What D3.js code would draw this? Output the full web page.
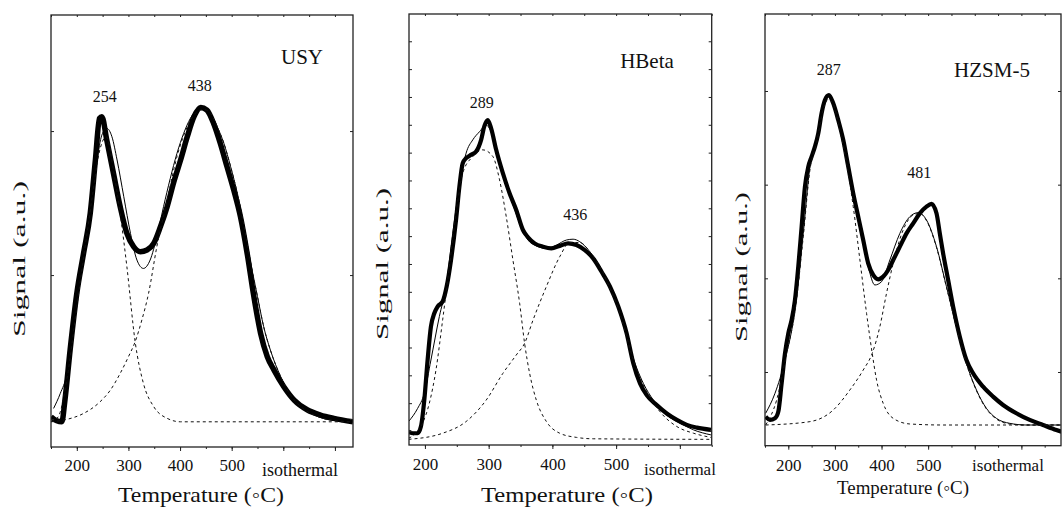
<!DOCTYPE html>
<html>
<head>
<meta charset="utf-8">
<script src="https://cdn.jsdelivr.net/npm/d3@7"></script>
<style>
  body { margin: 0; background: #fff; }
  text { font-family: "Liberation Serif", "Times New Roman", serif; fill: #111; }
</style>
</head>
<body>
<script>
// values are [temperature, signal (a.u.)]; beyond 500 the x axis is the isothermal hold
const xTickLabels = [200, 300, 400, 500];
const isoLabel = "isothermal";
const xTitle = "Temperature (\u25E6C)";
const yTitle = "Signal (a.u.)";

// USY
const usyExp = [[150,1.6],[161,-1.2],[171,-1.9],[177,13.2],[187,47.9],[200,87.3],[213,115],[226,142.8],[236,179.9],[244,208.8],[248.5,210],[258,193.8],[271,170.6],[284,147.5],[297,128.9],[310,119.7],[323,116.2],[336,117.4],[349,122],[362,133.6],[375,147.5],[388,164.8],[401,179.9],[414,196.1],[427,210],[440,216.4],[452,214.6],[465,205.3],[478,191.4],[491,175.2],[504,159],[517,140.5],[530,115],[543,85],[556,59.5],[569,43.3],[582,34],[601,22.5],[621,13.2],[647,6.3],[672,2.8],[698,0.5],[735,-1.9]];
const usyFit = [[155,7.4],[168,17.8],[181,31.7],[190,52.5],[200,82.6],[213,115],[226,147.5],[239,179.9],[248.5,197.2],[258,201.9],[268,196.1],[278,179.9],[291,154.4],[304,128.9],[316.5,110.4],[329,104.6],[342,110.4],[355,126.6],[368,147.5],[381,167.1],[394,184.5],[407,198.4],[420,208.8],[433,214.6],[446,215.7],[459,212.3],[472,203],[485,191.4],[498,175.2],[511,156.7],[524,133.6],[537,108.1],[550,85],[562,64.1],[575,47.9],[595,29.4],[614,16.7],[634,8.6],[660,2.8],[685,-0.2],[711,-1.4],[735,-1.9]];
const usyPeak1 = [[150,-1.9],[164,1.6],[181,28.2],[200,78],[217,122],[230,154.4],[243,184.5],[257,196],[271,172.9],[284,142.8],[297,105.8],[313,53.7],[329,24.8],[349,8.6],[375,0.5],[401,-1.9],[735,-1.9]];
const usyPeak2 = [[150,-1.9],[181,-0.2],[213,3.9],[245,12],[265,20.1],[284,31.7],[300,43.3],[313,53.7],[326,68.8],[339,87.3],[355,119.7],[375,152.1],[394,182.2],[414,203],[433,213.4],[446,215],[459,212.3],[472,203],[485,191.4],[498,175.2],[511,156.7],[524,133.6],[537,108.1],[550,85],[562,64.1],[575,47.9],[595,29.4],[614,16.7],[634,8.6],[660,2.8],[685,-0.2],[735,-1.9]];
const usyPeakLabels = [["254", 254], ["438", 438]];

// HBeta
const hbetaExp = [[174.3,-0.2],[180.6,-0.8],[188.5,-0.8],[193.7,1.6],[199,11.1],[204.2,25.5],[209.4,37.5],[214.7,42.3],[219.9,44.7],[227.8,46.5],[234.1,51.9],[240.9,61.4],[248.8,75.8],[254.1,87.8],[259.3,96.2],[264.6,98],[272.4,99.2],[280.3,100.4],[288.2,104.6],[293.4,109.6],[298.7,111.7],[303.9,108.7],[311.8,101],[322.3,92.6],[332.8,85.4],[343.3,79.4],[353.8,72.2],[361.7,69.6],[372.2,67.4],[385.3,66.2],[398.4,65.6],[411.5,66.5],[424.7,67.4],[437.8,66.8],[450.9,65],[464,62],[477.2,57.2],[490.3,51.9],[503.4,44.7],[516.5,35.1],[527,24.3],[537.5,17.1],[548,12.9],[563.8,9.3],[579.5,6.3],[595.3,4],[611,2.2],[626.8,1.2],[648.8,0.4]];
const hbetaFit = [[174.3,3.4],[188.5,8.1],[199,13.5],[209.4,25.5],[222.6,41.1],[233.1,51.9],[243.6,71],[254.1,87.8],[264.6,99.8],[275.1,104.6],[285.6,107.5],[296.1,109.9],[303.9,107.5],[317.1,97.4],[332.8,85.4],[348.6,74.6],[361.7,68.6],[374.8,66.5],[390.6,65.6],[406.3,66.8],[422,68.6],[432.5,68.9],[443,68],[458.8,64.4],[474.5,59],[490.3,51.9],[506,42.9],[516.5,34.5],[527,26.1],[542.8,17.1],[558.5,11.1],[579.5,5.7],[600.5,2.8],[621.5,0.4],[648.8,-1.4]];
const hbetaPeak1 = [[174.3,-2.6],[185.8,-0.8],[196.3,2.8],[206.8,9.9],[217.3,21.9],[227.8,39.9],[238.3,59],[248.8,78.2],[259.3,92.6],[275.1,98.6],[290.8,101],[306.6,98.6],[317.1,90.2],[327.6,77],[338.1,61.4],[348.6,45.9],[356.4,31.5],[364.3,20.7],[374.8,11.1],[390.6,3.4],[411.5,-0.8],[437.8,-2.3],[464,-2.8],[648.8,-3]];
const hbetaPeak2 = [[174.3,-3],[227.8,-0.8],[264.6,3.4],[296.1,11.1],[322.3,20.7],[343.3,27.3],[356.4,31.5],[369.7,39.9],[390.6,51.9],[411.5,62.6],[427.3,67.7],[443,67.7],[458.8,64.4],[474.5,59],[490.3,51.3],[506,42.3],[516.5,33.9],[527,25.5],[542.8,16.5],[569,6.9],[595.3,1.6],[621.5,-0.8],[648.8,-2.3]];
const hbetaPeakLabels = [["289", 289], ["436", 436]];

// HZSM-5
const hzsmExp = [[151.4,52.3],[160.7,48.8],[171.4,50.5],[178.6,57.7],[185.7,87.9],[192.9,119.9],[200,141.3],[207.1,155.5],[214.3,176.9],[221.4,212.5],[228.6,255.2],[235.7,297.9],[242.9,319.2],[250,329.9],[257.1,340.6],[264.3,354.8],[271.4,376.2],[278.6,390.4],[287.1,395.7],[296.4,386.8],[307.1,369],[317.9,347.7],[328.6,319.2],[339.3,290.7],[350,265.8],[360.7,240.9],[371.4,216],[382.1,203.6],[392.9,198.9],[403.6,201.8],[414.3,208.9],[425,219.6],[439.3,233.8],[453.6,248],[467.9,258.7],[482.1,269.4],[496.4,276.5],[507.1,279.4],[517.9,269.4],[525,248],[532.1,226.7],[542.9,198.2],[553.6,169.8],[567.9,137.7],[582.1,112.8],[596.4,98.6],[617.9,84.3],[639.3,73.7],[660.7,64.8],[689.3,55.9],[717.9,48.8],[746.4,43.4],[775,38.1],[786,36.3]];
const hzsmFit = [[151.4,55.9],[171.4,77.2],[192.9,112.8],[214.3,166.2],[232.1,248],[246.4,319.2],[260.7,347.7],[275,383.3],[285.7,394],[296.4,388.6],[310.7,361.9],[332.1,312.1],[353.6,255.2],[371.4,212.5],[385.7,192.9],[400,196.4],[417.9,219.6],[439.3,248],[460.7,265.8],[478.6,270.1],[496.4,262.3],[517.9,233.8],[539.3,191.1],[560.7,148.4],[582.1,109.3],[603.6,80.8],[625,61.2],[646.4,50.5],[675,45.2],[710.7,43.4],[786,43.4]];
const hzsmPeak1 = [[151.4,43.4],[175,70.1],[196.4,119.9],[214.3,164.4],[232.1,244.5],[246.4,315.7],[260.7,344.8],[275,380.4],[285.7,391.1],[296.4,386.1],[310.7,357.7],[325,322.8],[339.3,276.5],[353.6,219.6],[367.9,162.6],[380,119.9],[389.3,91.5],[403.6,66.5],[425,50.5],[460.7,44.5],[532.1,43.4],[786,43.4]];
const hzsmPeak2 = [[151.4,43.4],[246.4,47],[296.4,59.4],[332.1,80.8],[360.7,102.1],[380,119.9],[396.4,148.4],[410.7,184],[425,216],[446.4,251.6],[467.9,267.6],[482.1,269.4],[496.4,261.6],[517.9,233.1],[539.3,190.4],[560.7,147.7],[582.1,108.5],[603.6,80.1],[625,60.5],[646.4,49.8],[675,44.5],[710.7,43.4],[786,43.4]];
const hzsmPeakLabels = [["287", 287], ["481", 481]];

const panels = [
  { name: "USY", exp: usyExp, fit: usyFit, comps: [usyPeak1, usyPeak2], peaks: usyPeakLabels,
    left: 51, right: 353, top: 15, bottom: 447, xDomain: [150, 735], yDomain: [-19.4, 280.6],
    yTicks: [0, 100, 200], minor: d3.range(150, 736, 50), major: d3.range(200, 736, 100),
    expWidth: 5.5, nameX: 302, nameY: 64, isoX: 300, isoY: 476, isoSize: 18, numY: 471,
    xtX: 201, xtY: 502, xtLen: 166, xtSize: 21, ytX: 25, ytY: 259, ytLen: 156, peakY: [102, 91] },
  { name: "HBeta", exp: hbetaExp, fit: hbetaFit, comps: [hbetaPeak1, hbetaPeak2], peaks: hbetaPeakLabels,
    left: 409, right: 711.7, top: 14, bottom: 445, xDomain: [175, 650], yDomain: [-5.03, 149.8],
    yTicks: d3.range(0, 141, 10), minor: d3.range(200, 651, 50), major: d3.range(200, 651, 100),
    expWidth: 4.2, nameX: 647, nameY: 68, isoX: 680, isoY: 475, isoSize: 17, numY: 470,
    xtX: 567, xtY: 502, xtLen: 172, xtSize: 21, ytX: 388, ytY: 264, ytLen: 152, peakY: [108, 220] },
  { name: "HZSM-5", exp: hzsmExp, fit: hzsmFit, comps: [hzsmPeak1, hzsmPeak2], peaks: hzsmPeakLabels,
    left: 765, right: 1061, top: 14, bottom: 445.7, xDomain: [150, 785], yDomain: [21.3, 482.2],
    yTicks: [100, 200, 300, 400], minor: d3.range(150, 786, 50), major: d3.range(200, 786, 100),
    expWidth: 4.2, nameX: 992, nameY: 77, isoX: 1008, isoY: 471, isoSize: 17, numY: 471,
    xtX: 903, xtY: 494, xtLen: 132, xtSize: 18.5, ytX: 747, ytY: 267, ytLen: 150, peakY: [75, 178] }
];

const svg = d3.select("body").append("svg")
  .attr("width", 1062)
  .attr("height", 507);

panels.forEach((p, i) => {
  const x = d3.scaleLinear().domain(p.xDomain).range([p.left, p.right]);
  const y = d3.scaleLinear().domain(p.yDomain).range([p.bottom, p.top]);
  const g = svg.append("g");

  g.append("clipPath").attr("id", "clip" + i)
    .append("rect")
    .attr("x", p.left).attr("y", p.top)
    .attr("width", p.right - p.left).attr("height", p.bottom - p.top);

  const line = d3.line()
    .x(d => x(d[0]))
    .y(d => y(d[1]))
    .curve(d3.curveMonotoneX);

  const plot = g.append("g").attr("clip-path", "url(#clip" + i + ")");

  // measured signal
  plot.append("path")
    .datum(p.exp)
    .attr("d", line)
    .attr("fill", "none")
    .attr("stroke", "#000")
    .attr("stroke-width", p.expWidth)
    .attr("stroke-linejoin", "round");

  // total fit
  plot.append("path")
    .datum(p.fit)
    .attr("d", line)
    .attr("fill", "none")
    .attr("stroke", "#000")
    .attr("stroke-width", 1);

  // deconvoluted peaks
  plot.selectAll("path.comp")
    .data(p.comps)
    .enter()
    .append("path")
    .attr("class", "comp")
    .attr("d", line)
    .attr("fill", "none")
    .attr("stroke", "#111")
    .attr("stroke-width", 1)
    .attr("stroke-dasharray", "3,3");

  // axes
  const bottomMinor = g.append("g")
    .attr("transform", "translate(0," + p.bottom + ")")
    .call(d3.axisBottom(x).tickValues(p.minor).tickSize(2).tickFormat(""));
  const bottomMajor = g.append("g")
    .attr("transform", "translate(0," + p.bottom + ")")
    .call(d3.axisBottom(x).tickValues(p.major).tickSize(4).tickPadding(p.numY - p.bottom - 16)
      .tickFormat(d => (xTickLabels.indexOf(d) >= 0 ? d : "")));
  const topTicks = g.append("g")
    .attr("transform", "translate(0," + p.top + ")")
    .call(d3.axisBottom(x).tickValues(p.minor).tickSize(2).tickFormat(""));
  const leftTicks = g.append("g")
    .attr("transform", "translate(" + p.left + ",0)")
    .call(d3.axisRight(y).tickValues(p.yTicks).tickSize(3).tickFormat(""));
  const rightTicks = g.append("g")
    .attr("transform", "translate(" + p.right + ",0)")
    .call(d3.axisLeft(y).tickValues(p.yTicks).tickSize(3).tickFormat(""));

  [bottomMinor, bottomMajor, topTicks, leftTicks, rightTicks].forEach(a => {
    a.select(".domain").remove();
    a.selectAll("line").attr("stroke", "#222").attr("stroke-width", 1);
  });
  bottomMajor.selectAll("text")
    .attr("font-family", "Liberation Serif, serif")
    .attr("font-size", 17)
    .attr("fill", "#111");

  g.append("rect")
    .attr("x", p.left).attr("y", p.top)
    .attr("width", p.right - p.left).attr("height", p.bottom - p.top)
    .attr("fill", "none")
    .attr("stroke", "#222")
    .attr("stroke-width", 1.3);

  g.append("text")
    .attr("x", p.isoX).attr("y", p.isoY)
    .attr("text-anchor", "middle")
    .attr("font-size", p.isoSize)
    .text(isoLabel);

  g.append("text")
    .attr("x", p.nameX).attr("y", p.nameY)
    .attr("text-anchor", "middle")
    .attr("font-size", 21)
    .text(p.name);

  g.selectAll("text.peak")
    .data(p.peaks)
    .enter()
    .append("text")
    .attr("class", "peak")
    .attr("x", d => x(d[1]))
    .attr("y", (d, k) => p.peakY[k])
    .attr("text-anchor", "middle")
    .attr("font-size", 16)
    .text(d => d[0]);

  g.append("text")
    .attr("x", p.xtX).attr("y", p.xtY)
    .attr("text-anchor", "middle")
    .attr("font-size", p.xtSize)
    .attr("textLength", p.xtLen)
    .attr("lengthAdjust", "spacingAndGlyphs")
    .text(xTitle);

  g.append("text")
    .attr("transform", "translate(" + p.ytX + "," + p.ytY + ") rotate(-90)")
    .attr("text-anchor", "middle")
    .attr("font-size", 17)
    .attr("textLength", p.ytLen)
    .attr("lengthAdjust", "spacingAndGlyphs")
    .text(yTitle);
});
</script>
</body>
</html>
